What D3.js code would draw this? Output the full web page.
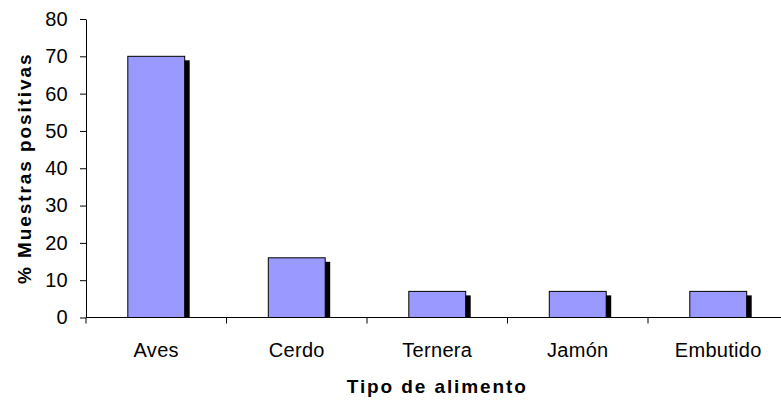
<!DOCTYPE html>
<html>
<head>
<meta charset="utf-8">
<script src="https://cdn.jsdelivr.net/npm/d3@7"></script>
<style>
  html, body { margin: 0; padding: 0; background: #fff; }
  svg { display: block; font-family: "Liberation Sans", Arial, sans-serif; }
</style>
</head>
<body>
<svg id="chart" width="781" height="400"></svg>
<script>
// Food types and percentage of positive samples
const categories = ["Aves", "Cerdo", "Ternera", "Jamón", "Embutido"];
const values = [70, 16, 7, 7, 7];
const yTicks = [0, 10, 20, 30, 40, 50, 60, 70, 80];
const xTitle = "Tipo de alimento";
const yTitle = "% Muestras positivas";

const svg = d3.select("#chart");

const plot = { left: 86, right: 788.5, top: 19, bottom: 317.5 };

const x = d3.scaleBand()
  .domain(categories)
  .range([plot.left, plot.right])
  .paddingInner(0)
  .paddingOuter(0);

const y = d3.scaleLinear()
  .domain([0, 80])
  .range([plot.bottom, plot.top]);

const barW = x.bandwidth() * 0.405;
const shadow = { dx: 5, dy: 4 };

// Drop shadows behind the bars
svg.append("g")
  .selectAll("rect")
  .data(categories)
  .join("rect")
  .attr("x", (d) => x(d) + (x.bandwidth() - barW) / 2 + shadow.dx)
  .attr("y", (d, i) => y(values[i]) + shadow.dy)
  .attr("width", barW)
  .attr("height", (d, i) => plot.bottom - y(values[i]) - shadow.dy)
  .attr("fill", "#000");

// Bars
svg.append("g")
  .selectAll("rect")
  .data(categories)
  .join("rect")
  .attr("x", (d) => x(d) + (x.bandwidth() - barW) / 2)
  .attr("y", (d, i) => y(values[i]))
  .attr("width", barW)
  .attr("height", (d, i) => plot.bottom - y(values[i]))
  .attr("fill", "#9999FF")
  .attr("stroke", "#000")
  .attr("stroke-width", 1);

// Y axis
const yAxis = d3.axisLeft(y)
  .tickValues(yTicks)
  .tickSize(6)
  .tickPadding(12)
  .tickSizeOuter(0);

const gy = svg.append("g")
  .attr("transform", `translate(${plot.left},0)`)
  .call(yAxis);
gy.select(".domain").attr("stroke", "#000");
gy.selectAll(".tick line").attr("stroke", "#000");
gy.selectAll(".tick text")
  .attr("font-size", 20)
  .attr("letter-spacing", "0.3px")
  .attr("fill", "#000")
  .attr("font-family", "Liberation Sans, Arial, sans-serif");

// X axis: ticks sit on the category boundaries
const boundaries = categories.map((d) => x(d)).concat([plot.right]);
const gx = svg.append("g")
  .attr("transform", `translate(0,${plot.bottom})`);
gx.append("line")
  .attr("x1", plot.left)
  .attr("x2", plot.right)
  .attr("stroke", "#000");
gx.selectAll("line.tick")
  .data(boundaries)
  .join("line")
  .attr("class", "tick")
  .attr("x1", (d) => d)
  .attr("x2", (d) => d)
  .attr("y1", 0)
  .attr("y2", 6)
  .attr("stroke", "#000");
gx.selectAll("text")
  .data(categories)
  .join("text")
  .attr("x", (d) => x(d) + x.bandwidth() / 2)
  .attr("y", 39)
  .attr("text-anchor", "middle")
  .attr("font-size", 20)
  .attr("letter-spacing", "0.3px")
  .attr("fill", "#000")
  .text((d) => d);

// Axis titles
svg.append("text")
  .attr("x", (plot.left + plot.right) / 2)
  .attr("y", 393)
  .attr("text-anchor", "middle")
  .attr("font-size", 19)
  .attr("font-weight", "bold")
  .attr("letter-spacing", "1.9px")
  .attr("fill", "#000")
  .text(xTitle);

svg.append("text")
  .attr("transform", `translate(31,${(plot.top + plot.bottom) / 2}) rotate(-90)`)
  .attr("text-anchor", "middle")
  .attr("font-size", 19)
  .attr("font-weight", "bold")
  .attr("letter-spacing", "1.9px")
  .attr("fill", "#000")
  .text(yTitle);
</script>
</body>
</html>
